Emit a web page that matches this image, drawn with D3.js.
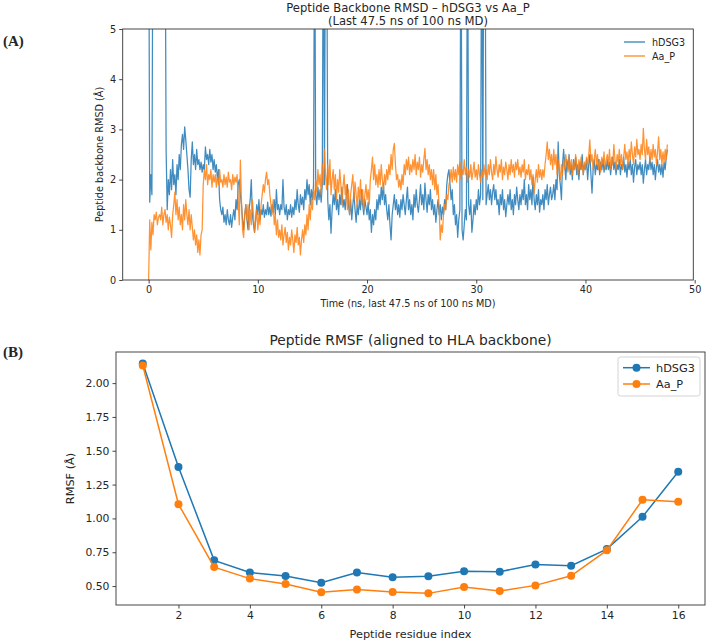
<!DOCTYPE html>
<html><head><meta charset="utf-8">
<script src="https://cdn.jsdelivr.net/npm/d3@7"></script>
<style>
body{margin:0;background:#fff}
svg{display:block}
text{font-family:"DejaVu Sans",sans-serif;fill:#262626}
</style>
</head><body>
<svg id="chart" width="708" height="642"></svg>
<script>
// ---------------- DATA ----------------
const seriesNames = ["hDSG3", "Aa_P"];
const seriesColors = ["#1f77b4", "#ff7f0e"];

// Panel A: backbone RMSD sampled every 0.1 ns, t = 0 ... 47.5
const timeStep = 0.1;
const rmsdHDSG3 = [
8,1.55,2.1,1.7,8,8,8,8,8,8,
8,8,8,8,8,8,2.6,1.4,2.0,1.7,
2.2,1.8,2.4,1.9,2.1,1.7,2.3,2.0,2.5,2.2,
2.7,2.9,2.6,3.05,2.8,2.5,2.2,1.8,1.65,2.4,
2.75,2.3,2.5,2.2,2.6,2.3,2.4,2.2,2.35,2.15,
2.3,2.2,2.65,2.4,2.5,2.3,2.6,2.35,2.5,2.2,
2.4,2.15,2.3,2.0,2.2,1.6,1.4,1.3,1.45,1.15,
1.3,1.1,1.4,1.2,1.1,1.3,1.05,1.25,1.4,1.2,
1.6,1.4,1.9,2.0,1.7,1.5,1.2,1.0,1.3,1.5,
1.2,1.0,1.4,1.6,2.0,1.3,1.1,0.95,1.2,1.5,
1.3,1.6,1.2,1.4,1.3,1.5,1.25,1.4,1.3,1.55,
1.3,1.45,1.27,1.5,1.35,1.6,1.3,1.8,1.4,1.5,
1.3,1.5,1.4,2.0,1.45,1.3,1.5,1.2,1.4,1.3,
1.5,1.25,1.45,1.3,1.6,1.4,1.8,1.5,1.35,1.7,
1.5,1.65,1.4,1.8,1.6,2.0,1.7,1.9,1.5,1.8,
1.6,1.9,8,1.7,1.5,1.85,1.6,1.8,1.55,1.9,
8,1.9,8,8,1.6,1.2,1.5,0.93,1.4,1.7,
1.5,1.8,1.4,1.6,1.3,1.7,1.5,1.85,1.45,1.6,
1.4,1.7,1.9,1.5,1.3,1.6,1.2,1.5,1.75,1.4,
1.15,1.5,1.3,1.6,1.4,1.8,1.5,1.3,1.6,1.45,
1.3,1.55,1.2,1.4,0.95,1.3,1.1,1.4,1.2,1.6,
1.4,1.7,1.5,1.85,1.6,1.93,1.5,1.7,1.4,1.2,
1.5,1.1,0.8,1.3,1.5,1.7,1.4,1.6,1.3,1.5,
1.25,1.6,1.4,1.7,1.5,1.3,1.6,1.85,1.4,1.6,
1.3,1.5,1.2,1.7,1.45,1.8,1.5,1.35,1.6,1.9,
1.5,1.7,1.4,1.93,1.6,1.35,1.7,1.5,1.8,1.4,
1.6,1.3,1.5,1.15,1.4,1.6,1.3,1.5,1.2,1.45,
1.3,1.6,1.4,1.9,2.1,2.2,1.9,1.6,1.8,1.3,
1.5,1.1,1.3,0.85,1.2,1.4,8,1.0,0.8,1.1,
1.4,1.2,8,1.5,1.3,1.6,0.95,1.2,1.5,1.3,
1.6,1.4,1.8,1.5,1.7,8,1.6,8,8,1.5,
1.7,1.9,1.6,1.8,1.5,1.75,1.9,1.6,1.8,1.5,
1.6,1.3,1.7,1.5,1.8,1.4,1.6,1.26,1.5,1.7,
1.5,1.8,1.4,1.6,1.3,1.7,1.5,1.85,1.6,1.4,
1.7,1.5,1.8,1.6,2.0,1.5,1.7,1.4,1.9,1.6,
1.8,1.5,2.05,1.6,1.4,1.7,1.5,1.8,1.35,1.6,
1.5,1.7,1.4,1.8,1.6,1.9,1.5,1.7,1.85,1.6,
1.7,1.9,1.6,2.0,1.8,2.75,2.1,1.9,1.6,2.3,
2.6,2.3,2.0,2.4,2.2,2.5,2.1,2.3,2.0,2.4,
2.2,2.45,2.1,2.3,2.0,2.35,2.2,2.5,2.1,2.3,
2.2,2.4,2.0,2.3,2.5,2.1,1.73,2.2,2.4,2.1,
2.3,2.2,2.4,2.1,2.35,2.2,2.4,2.15,2.3,2.2,
2.4,2.2,2.35,2.1,2.3,2.45,2.2,2.35,2.1,2.3,
2.2,2.4,2.1,2.3,2.2,2.45,2.15,2.3,2.05,2.35,
2.2,2.4,2.1,2.3,1.95,2.25,2.4,2.1,2.3,2.2,
2.35,2.1,2.3,1.93,2.2,2.4,2.1,2.3,2.2,2.45,
2.2,2.35,2.1,2.3,2.0,2.25,2.4,2.15,2.3,2.1,
2.3,2.05,2.35,2.2,2.45,2.6
];
const rmsdAaP = [
0,1.2,0.6,1.15,0.9,1.3,1.2,1.35,1.1,1.25,
1.3,1.2,1.45,1.1,1.3,1.4,1.15,1.3,1.0,1.25,
1.1,0.85,1.3,1.5,1.75,1.3,1.6,1.2,1.45,1.1,
1.3,1.0,1.5,1.2,1.6,1.3,1.1,1.4,1.0,1.3,
1.05,0.8,1.0,0.7,0.9,0.55,0.8,0.5,0.9,1.0,
1.9,2.2,2.0,2.3,1.9,2.1,2.0,2.2,1.85,2.1,
1.95,2.1,1.85,2.05,1.9,2.2,1.95,2.0,1.85,2.1,
1.9,2.05,1.85,2.15,1.95,2.0,1.8,2.1,1.9,2.05,
1.95,2.1,1.6,1.1,2.39,1.6,1.0,0.85,1.3,1.5,
1.2,1.5,1.0,1.4,1.1,1.6,1.3,0.95,1.2,1.4,
1.0,1.3,1.1,1.5,1.7,1.9,1.75,2.0,2.15,1.9,
2.0,1.7,1.5,1.3,1.6,1.1,1.3,0.9,1.2,0.85,
1.0,0.8,1.1,0.7,0.9,1.05,0.75,0.95,0.6,0.85,
0.7,1.0,0.8,0.55,0.9,0.75,1.05,0.7,0.85,0.5,
0.8,1.0,0.75,1.1,0.9,1.3,1.0,1.5,1.2,1.6,
1.4,1.8,1.6,2.0,1.75,2.2,1.9,2.1,1.7,2.3,
1.9,2.6,2.1,1.8,2.3,1.9,2.4,1.7,2.0,2.2,
1.8,2.1,1.6,2.0,1.75,2.2,1.9,1.5,1.85,2.1,
1.7,1.9,1.4,1.8,1.3,1.7,1.9,2.1,1.6,1.95,
1.7,1.45,1.85,1.6,2.0,1.5,1.8,1.4,1.7,1.9,
1.6,1.8,1.5,2.0,2.2,2.45,2.0,2.3,1.9,2.1,
1.85,2.2,1.9,2.3,2.0,1.8,2.1,1.9,2.2,2.0,
2.3,2.1,2.5,2.2,2.6,2.72,2.3,2.0,2.1,1.85,
2.0,1.8,2.1,1.9,2.3,2.1,2.4,2.2,2.45,2.1,
2.3,2.15,2.4,2.2,2.5,2.1,2.35,2.2,2.45,2.05,
2.3,2.15,2.4,2.62,2.2,2.4,2.1,2.3,2.0,2.2,
1.9,2.2,1.8,2.1,1.7,1.9,1.45,0.8,1.1,0.95,
1.3,1.5,1.4,1.7,1.6,1.9,2.0,2.2,1.95,2.25,
2.0,2.2,1.95,2.3,2.1,2.35,2.0,2.2,2.1,2.4,
2.1,2.25,1.95,2.2,2.05,2.3,2.0,2.15,2.35,2.05,
2.2,2.0,2.3,2.1,1.95,2.2,2.05,2.3,2.1,2.2,
2.0,2.3,2.1,2.4,2.15,2.0,2.3,2.1,2.46,2.2,
2.05,2.3,2.15,2.4,2.0,2.25,2.1,2.35,2.2,2.0,
2.3,2.1,2.4,2.15,2.3,2.05,2.35,2.2,2.4,2.1,
2.25,2.05,2.3,2.15,2.4,2.0,2.2,2.1,2.3,2.0,
2.2,1.9,2.1,1.73,2.0,2.2,1.95,2.3,2.05,2.2,
2.0,2.2,2.05,2.3,2.5,2.75,2.4,2.6,2.3,2.5,
2.2,2.6,2.3,2.5,2.1,2.4,2.2,2.0,2.3,2.1,
2.4,2.2,2.5,2.3,2.15,2.45,2.2,2.4,2.1,2.35,
2.2,2.5,2.3,2.1,2.4,2.2,2.45,2.3,2.1,2.35,
2.2,2.45,2.3,2.5,2.79,2.35,2.5,2.2,2.4,2.6,
2.3,2.5,2.2,2.4,2.15,2.45,2.3,2.55,2.2,2.4,
2.5,2.3,2.6,2.2,2.45,2.3,2.7,2.4,2.2,2.5,
2.35,2.6,2.3,2.5,2.2,2.45,2.7,2.4,2.55,2.3,
2.6,2.4,2.75,2.5,2.3,2.65,2.45,2.8,2.5,2.6,
2.4,2.7,2.5,3.02,2.6,2.4,2.8,2.5,2.65,2.35,
2.6,2.4,2.7,2.45,2.6,2.3,2.55,2.85,2.4,2.6,
2.3,2.55,2.35,2.6,2.4,2.7
];
const rmsdXTicks = [0, 10, 20, 30, 40, 50];
const rmsdYTicks = [0, 1, 2, 3, 4, 5];

// Panel B: per-residue RMSF
const residues = [1,2,3,4,5,6,7,8,9,10,11,12,13,14,15,16];
const rmsfHDSG3 = [2.145,1.38,0.69,0.60,0.575,0.525,0.60,0.565,0.573,0.61,0.606,0.66,0.65,0.773,1.012,1.345];
const rmsfAaP   = [2.13,1.105,0.64,0.555,0.515,0.455,0.475,0.456,0.446,0.493,0.463,0.505,0.576,0.764,1.138,1.123];
const rmsfXTicks = [2,4,6,8,10,12,14,16];
const rmsfYTicks = [0.5,0.75,1.0,1.25,1.5,1.75,2.0];

// ---------------- DRAW ----------------
const svg = d3.select("#chart");
const axisColor = "#333";

function styleAxis(g, fontSize) {
  g.selectAll(".domain").remove();
  g.selectAll(".tick line").attr("stroke", axisColor).attr("stroke-width", 0.9);
  g.selectAll(".tick text").attr("fill", "#262626").style("font-size", fontSize + "px")
    .style("font-family", "'DejaVu Sans', sans-serif");
}

// ===== Panel A =====
const A = {left: 122.7, right: 693.3, top: 29, bottom: 280};
const xA = d3.scaleLinear().domain([-2.375, 49.875]).range([A.left, A.right]);
const yA = d3.scaleLinear().domain([0, 5]).range([A.bottom, A.top]);

svg.append("defs").append("clipPath").attr("id", "clipA")
  .append("rect").attr("x", A.left).attr("y", A.top)
  .attr("width", A.right - A.left).attr("height", A.bottom - A.top);

const rmsdSeries = [rmsdHDSG3, rmsdAaP];
const lineA = d3.line().x((d, i) => xA(i * timeStep)).y(d => yA(d));
rmsdSeries.forEach((vals, k) => {
  svg.append("path").datum(vals)
    .attr("clip-path", "url(#clipA)")
    .attr("d", lineA)
    .attr("fill", "none")
    .attr("stroke", seriesColors[k])
    .attr("stroke-opacity", 0.85)
    .attr("stroke-width", 1.25)
    .attr("stroke-linejoin", "round");
});

const fsA = 9.7;
svg.append("g").attr("transform", `translate(0,${A.bottom})`)
  .call(d3.axisBottom(xA).tickValues(rmsdXTicks).tickSize(3.5).tickPadding(3).tickFormat(d3.format("d")))
  .call(g => styleAxis(g, fsA));
svg.append("g").attr("transform", `translate(${A.left},0)`)
  .call(d3.axisLeft(yA).tickValues(rmsdYTicks).tickSize(3.5).tickPadding(3).tickFormat(d3.format("d")))
  .call(g => styleAxis(g, fsA));
svg.append("rect").attr("x", A.left).attr("y", A.top)
  .attr("width", A.right - A.left).attr("height", A.bottom - A.top)
  .attr("fill", "none").attr("stroke", axisColor).attr("stroke-width", 0.9);

const midA = (A.left + A.right) / 2;
svg.append("text").attr("x", midA).attr("y", 11.5).attr("text-anchor", "middle")
  .style("font-size", "11.6px").text("Peptide Backbone RMSD \u2013 hDSG3 vs Aa_P");
svg.append("text").attr("x", midA).attr("y", 24.5).attr("text-anchor", "middle")
  .style("font-size", "11.6px").text("(Last 47.5 ns of 100 ns MD)");
svg.append("text").attr("x", midA).attr("y", 307).attr("text-anchor", "middle")
  .style("font-size", fsA + "px").text("Time (ns, last 47.5 ns of 100 ns MD)");
svg.append("text").attr("transform", `translate(103,${(A.top + A.bottom) / 2}) rotate(-90)`)
  .attr("text-anchor", "middle").style("font-size", fsA + "px").text("Peptide backbone RMSD (\u00c5)");

// legend A (no frame)
seriesNames.forEach((name, k) => {
  const yy = 42 + k * 14;
  svg.append("line").attr("x1", 624).attr("x2", 645).attr("y1", yy).attr("y2", yy)
    .attr("stroke", seriesColors[k]).attr("stroke-opacity", 0.85).attr("stroke-width", 1.4);
  svg.append("text").attr("x", 652).attr("y", yy + 3.5).style("font-size", "9.6px").text(name);
});

svg.append("text").attr("x", 3).attr("y", 46)
  .style("font-family", "'Liberation Serif', 'Times New Roman', serif").style("font-weight", "bold")
  .style("font-size", "15px").attr("fill", "#000").text("(A)");

// ===== Panel B =====
const B = {left: 116, right: 705, top: 352, bottom: 605};
const xB = d3.scaleLinear().domain([0.25, 16.75]).range([B.left, B.right]);
const yB = d3.scaleLinear().domain([0.36, 2.23]).range([B.bottom, B.top]);

const rmsfSeries = [rmsfHDSG3, rmsfAaP];
const lineB = d3.line().x((d, i) => xB(residues[i])).y(d => yB(d));
rmsfSeries.forEach((vals, k) => {
  const g = svg.append("g");
  g.append("path").datum(vals).attr("d", lineB).attr("fill", "none")
    .attr("stroke", seriesColors[k]).attr("stroke-width", 1.5);
  g.selectAll("circle").data(vals).join("circle")
    .attr("cx", (d, i) => xB(residues[i])).attr("cy", d => yB(d))
    .attr("r", 4).attr("fill", seriesColors[k]);
});

const fsB = 10.8;
svg.append("g").attr("transform", `translate(0,${B.bottom})`)
  .call(d3.axisBottom(xB).tickValues(rmsfXTicks).tickSize(3.5).tickPadding(3).tickFormat(d3.format("d")))
  .call(g => styleAxis(g, fsB));
svg.append("g").attr("transform", `translate(${B.left},0)`)
  .call(d3.axisLeft(yB).tickValues(rmsfYTicks).tickSize(3.5).tickPadding(3).tickFormat(d3.format(".2f")))
  .call(g => styleAxis(g, fsB));
svg.append("rect").attr("x", B.left).attr("y", B.top)
  .attr("width", B.right - B.left).attr("height", B.bottom - B.top)
  .attr("fill", "none").attr("stroke", axisColor).attr("stroke-width", 0.9);

const midB = (B.left + B.right) / 2;
svg.append("text").attr("x", midB).attr("y", 345).attr("text-anchor", "middle")
  .style("font-size", "13.8px").text("Peptide RMSF (aligned to HLA backbone)");
svg.append("text").attr("x", midB).attr("y", 638).attr("text-anchor", "middle")
  .style("font-size", "11.3px").text("Peptide residue index");
svg.append("text").attr("transform", `translate(74,${(B.top + B.bottom) / 2}) rotate(-90)`)
  .attr("text-anchor", "middle").style("font-size", "11.3px").text("RMSF (\u00c5)");

// legend B (framed)
svg.append("rect").attr("x", 618).attr("y", 357).attr("width", 82).attr("height", 39)
  .attr("rx", 2.5).attr("fill", "#fff").attr("fill-opacity", 0.8)
  .attr("stroke", "#cfcfcf").attr("stroke-width", 0.9);
seriesNames.forEach((name, k) => {
  const yy = 367.7 + k * 16.3;
  svg.append("line").attr("x1", 623).attr("x2", 650).attr("y1", yy).attr("y2", yy)
    .attr("stroke", seriesColors[k]).attr("stroke-width", 1.5);
  svg.append("circle").attr("cx", 636.5).attr("cy", yy).attr("r", 4).attr("fill", seriesColors[k]);
  svg.append("text").attr("x", 656).attr("y", yy + 4).style("font-size", "11.3px").text(name);
});

svg.append("text").attr("x", 3).attr("y", 357)
  .style("font-family", "'Liberation Serif', 'Times New Roman', serif").style("font-weight", "bold")
  .style("font-size", "15px").attr("fill", "#000").text("(B)");
</script>
</body></html>
